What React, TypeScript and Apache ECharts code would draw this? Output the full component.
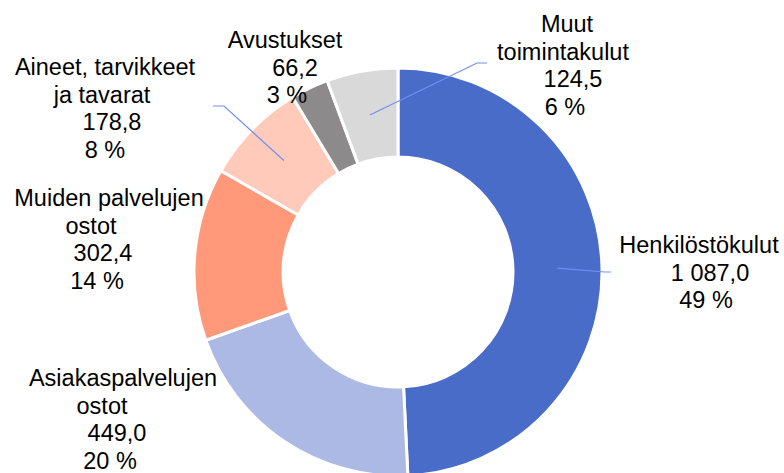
import React, { useEffect, useRef } from "react";
import * as echarts from "echarts";

const categories = [
  "Henkilöstökulut",
  "Asiakaspalvelujen\nostot",
  "Muiden palvelujen\nostot",
  "Aineet, tarvikkeet\nja tavarat",
  "Avustukset",
  "Muut\ntoimintakulut",
];
const values = [1087.0, 449.0, 302.4, 178.8, 66.2, 124.5];
const colors = ["#4a6cc9", "#abb9e4", "#ff997a", "#ffcab9", "#8c8a8a", "#d9d9d9"];

// label layout: first-line center y and the center x of each text line
const labelTopY = [245, 378, 198, 67, 40, 24];
const labelLineCenters = [
  [699, 710, 706],
  [123, 102, 117, 110],
  [109, 91, 103, 97],
  [105, 102, 112, 105],
  [285, 295, 287],
  [567, 563, 573, 565],
];
// leader line ends for labels that have one (index -> points after start)
const leaderEnds: Record<number, number[][]> = {
  0: [[605, 272], [611, 272]],
  3: [[224, 106], [213, 106]],
  5: [[477, 63], [487, 63]],
};

const CX = 398;
const CY = 272;
const R_IN = 115;
const R_OUT = 204;
const FONT = 23.5;
const LH = 27.6;
const FAMILY = "Liberation Sans, Arial, sans-serif";

function fmt(v: number): string {
  const fixed = v.toFixed(1);
  const [ip, dp] = fixed.split(".");
  const withSep = ip.replace(/\B(?=(\d{3})+(?!\d))/g, "\u00a0");
  return `${withSep},${dp}`;
}

export default function App() {
  const ref = useRef<HTMLDivElement>(null);
  useEffect(() => {
    if (!ref.current) return;
    const chart = echarts.init(ref.current, undefined, { renderer: "svg" });
    const total = values.reduce((a, b) => a + b, 0);

    const graphics: any[] = [];
    let cum = 0;
    values.forEach((v, i) => {
      const mid = (cum + v / 2) / total;
      cum += v;
      const ends = leaderEnds[i];
      if (!ends) return;
      const ang = mid * Math.PI * 2;
      const rm = (R_IN + R_OUT) / 2;
      const sx = CX + rm * Math.sin(ang);
      const sy = CY - rm * Math.cos(ang);
      graphics.push({
        type: "polyline",
        z: 100,
        shape: { points: [[sx, sy], ...ends] },
        style: { stroke: "#7090f0", lineWidth: 1.2, fill: null },
      });
    });

    const anchorX = labelLineCenters.map(
      (arr) => (Math.max(...arr) + Math.min(...arr)) / 2
    );

    const richFor = (i: number) => {
      const rich: any = {};
      labelLineCenters[i].forEach((c, k) => {
        const dx = c - anchorX[i];
        rich["l" + k] = {
          fontFamily: FAMILY,
          fontSize: FONT,
          lineHeight: LH,
          color: "#000000",
          padding: [0, dx < 0 ? -2 * dx : 0, 0, dx > 0 ? 2 * dx : 0],
        };
      });
      return rich;
    };

    chart.setOption({
      animation: false,
      backgroundColor: "#ffffff",
      graphic: graphics,
      series: [
        {
          type: "pie",
          center: [CX, CY],
          radius: [R_IN, R_OUT],
          startAngle: 90,
          clockwise: true,
          avoidLabelOverlap: false,
          itemStyle: { borderColor: "#ffffff", borderWidth: 3 },
          label: {
            show: true,
            position: "outside",
            fontFamily: FAMILY,
            fontSize: FONT,
            lineHeight: LH,
            color: "#000000",
            align: "center",
            formatter: (p: any) => {
              const pct = Math.round((values[p.dataIndex] / total) * 100);
              const text = `${p.name}\n${fmt(values[p.dataIndex])}\n${pct} %`;
              return text
                .split("\n")
                .map((line, k) => `{l${k}|${line}}`)
                .join("\n");
            },
          },
          labelLine: { show: false },
          labelLayout: (p: any) => ({
            x: anchorX[p.dataIndex],
            y: labelTopY[p.dataIndex] - LH / 2,
            align: "center",
            verticalAlign: "top",
          }),
          data: categories.map((c, i) => ({
            name: c,
            value: values[i],
            itemStyle: { color: colors[i] },
            label: { rich: richFor(i) },
          })),
        },
      ],
    });
    return () => chart.dispose();
  }, []);
  return (
    <div
      ref={ref}
      style={{ position: "fixed", left: 0, top: 0, width: 784, height: 473 }}
    />
  );
}
